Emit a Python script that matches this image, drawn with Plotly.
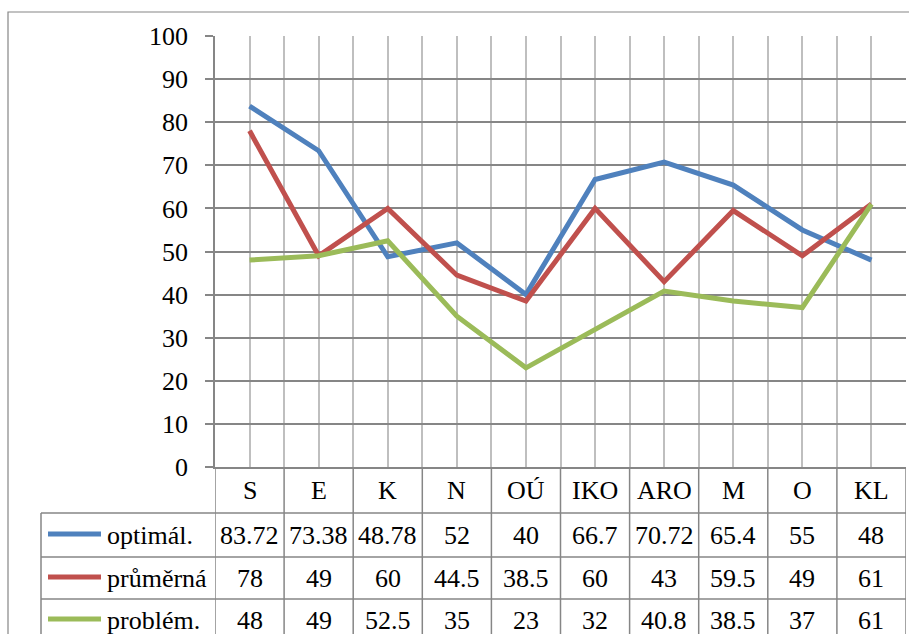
import plotly.graph_objects as go

W, H = 909, 634

categories = ["S", "E", "K", "N", "OÚ", "IKO", "ARO", "M", "O", "KL"]
series_names = ["optimál.", "průměrná", "problém."]
optimal = [83.72, 73.38, 48.78, 52, 40, 66.7, 70.72, 65.4, 55, 48]
prumerna = [78, 49, 60, 44.5, 38.5, 60, 43, 59.5, 49, 61]
problem = [48, 49, 52.5, 35, 23, 32, 40.8, 38.5, 37, 61]
y_ticks = [0, 10, 20, 30, 40, 50, 60, 70, 80, 90, 100]

colors = ["#4F81BD", "#C0504D", "#9BBB59"]
FONT = "Liberation Serif, Times New Roman, serif"
FS = 26
GRID_DARK = "#868686"
GRID_LIGHT = "#BFBFBF"


def px(x):
    return x / W


def py(y):
    return 1 - y / H


fig = go.Figure()

xs = list(range(len(categories)))
for name, vals, c in zip(series_names, [optimal, prumerna, problem], colors):
    fig.add_trace(go.Scatter(x=xs, y=vals, mode="lines", name=name,
                             line=dict(color=c, width=5), showlegend=False,
                             cliponaxis=False))

shapes = []
# outer chart frame, runs off the page right and bottom
shapes.append(dict(type="rect", xref="paper", yref="paper",
                   x0=px(8), x1=px(960), y0=py(12), y1=py(700),
                   line=dict(color=GRID_DARK, width=1.2)))

# data table rules
row_lines = [513, 557, 599]
for yy in row_lines:
    shapes.append(dict(type="line", xref="paper", yref="paper",
                       x0=px(41), x1=px(906), y0=py(yy), y1=py(yy),
                       line=dict(color=GRID_DARK, width=1.5)))
shapes.append(dict(type="line", xref="paper", yref="paper",
                   x0=px(41), x1=px(41), y0=py(513), y1=py(700),
                   line=dict(color=GRID_DARK, width=1.5)))
for i in range(len(categories) + 1):
    shapes.append(dict(type="line", xref="x", yref="paper",
                       x0=i - 0.5, x1=i - 0.5, y0=py(467), y1=py(700),
                       line=dict(color=GRID_DARK, width=1.5)))

annotations = []
header_y = 490
row_y = [535, 578, 620]
for i, cat in enumerate(categories):
    annotations.append(dict(x=i, y=py(header_y), xref="x", yref="paper",
                            text=cat, showarrow=False, yanchor="middle",
                            font=dict(family=FONT, size=FS, color="black")))
for r, (name, vals, c) in enumerate(zip(series_names, [optimal, prumerna, problem], colors)):
    for i, v in enumerate(vals):
        annotations.append(dict(x=i, y=py(row_y[r]), xref="x", yref="paper",
                                text=f"{v:g}", showarrow=False, yanchor="middle",
                                font=dict(family=FONT, size=FS, color="black")))
    # legend key inside the table
    annotations.append(dict(x=px(105), y=py(row_y[r]), xref="paper", yref="paper",
                            xanchor="left", yanchor="middle", text=name, showarrow=False,
                            font=dict(family=FONT, size=FS, color="black")))
    shapes.append(dict(type="line", xref="paper", yref="paper",
                       x0=px(48), x1=px(101), y0=py(row_y[r] - 1), y1=py(row_y[r] - 1),
                       line=dict(color=c, width=5)))

fig.update_layout(
    width=W, height=H,
    margin=dict(l=0, r=0, t=0, b=0, pad=0),
    paper_bgcolor="white", plot_bgcolor="white",
    font=dict(family=FONT, size=FS, color="black"),
    shapes=shapes, annotations=annotations,
    xaxis=dict(domain=[px(215), px(906)], range=[-0.5, len(categories) - 0.5],
               tickvals=[i * 0.5 - 0.5 for i in range(2 * len(categories) + 1)],
               showticklabels=False, showgrid=True, gridcolor=GRID_LIGHT, gridwidth=1.5,
               zeroline=False, showline=True, linecolor=GRID_DARK, linewidth=1.5,
               ticks="", fixedrange=True, automargin=False),
    yaxis=dict(domain=[py(467), py(36)], range=[0, 100], tickvals=y_ticks,
               showgrid=True, gridcolor=GRID_DARK, gridwidth=1.5, zeroline=False,
               showline=True, linecolor=GRID_DARK, linewidth=1.5,
               ticks="outside", ticklen=8, tickcolor=GRID_DARK, tickwidth=1.5,
               ticklabelstandoff=12, automargin=False,
               tickfont=dict(family=FONT, size=FS, color="black"), fixedrange=True),
)

fig.write_html("out.html", config={"displayModeBar": False},
               post_script="document.body.style.margin='0';")
